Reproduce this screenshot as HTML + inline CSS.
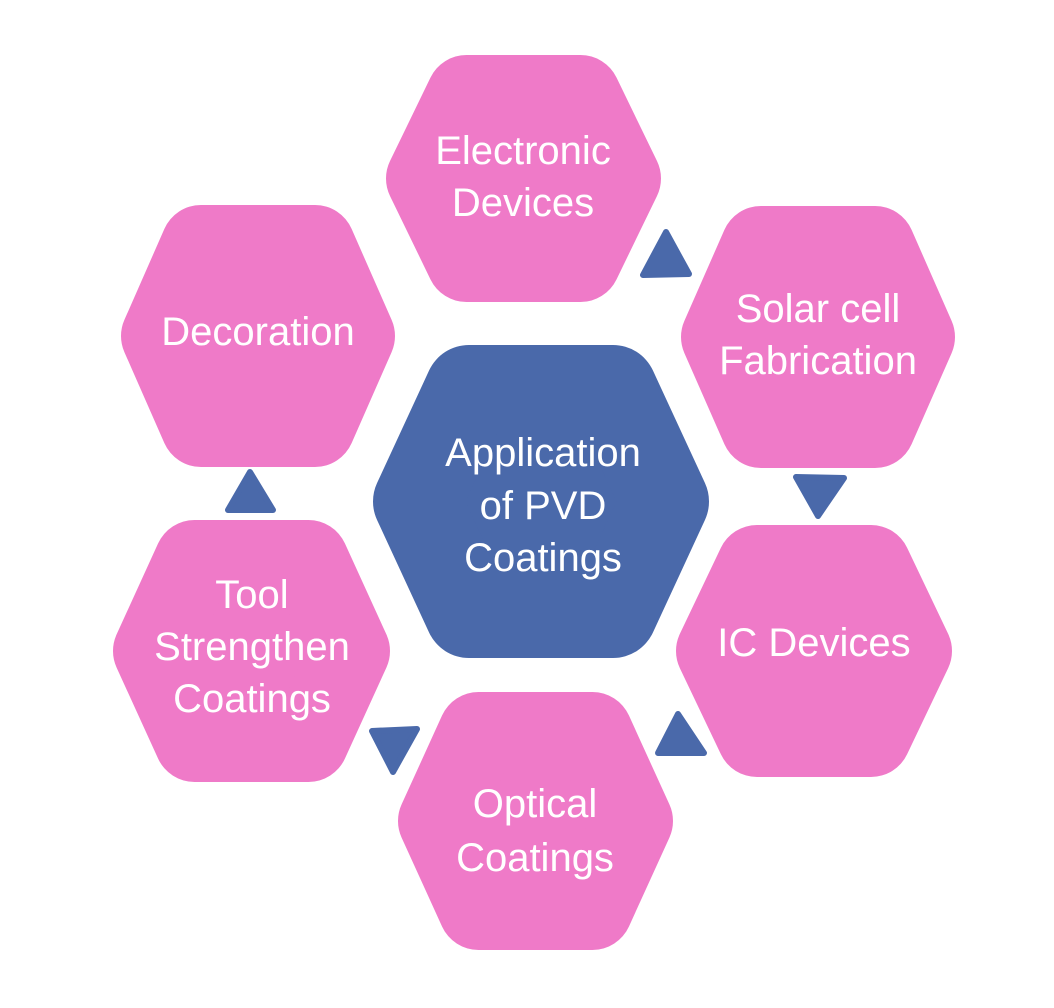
<!DOCTYPE html>
<html><head><meta charset="utf-8"><style>
html,body{margin:0;padding:0;background:#fff;}
svg{display:block}
text{font-family:"Liberation Sans",sans-serif;font-size:40px;fill:#fff;text-anchor:middle}
</style></head><body>
<svg width="1054" height="1008" viewBox="0 0 1054 1008">
<g fill="#ef7ac8" stroke="#ef7ac8" stroke-width="80" stroke-linejoin="round">
<polygon points="426,178.5 466.5,95 580.5,95 621,178.5 580.5,262 466.5,262"/>
<polygon points="721,337 761,246 875,246 915,337 875,428 761,428"/>
<polygon points="716,651 757,565 871,565 912,651 871,737 757,737"/>
<polygon points="438,821 478.5,732 592.5,732 633,821 592.5,910 478.5,910"/>
<polygon points="153,651 194.5,560 308.5,560 350,651 308.5,742 194.5,742"/>
<polygon points="161,336 201,245 315,245 355,336 315,427 201,427"/>
</g>
<polygon points="417,501.5 469,389 613,389 665,501.5 613,614 469,614" fill="#4a69aa" stroke="#4a69aa" stroke-width="88" stroke-linejoin="round"/>
<g fill="#4a69aa" stroke="#4a69aa" stroke-width="6" stroke-linejoin="round">
<polygon points="666,232 643,275 689,274"/>
<polygon points="796,477 844,478 818,516"/>
<polygon points="678,714 658,753 704,753"/>
<polygon points="372,731 417,729 393,772"/>
<polygon points="250,472 228,510 273,510"/>
</g>
<text x="523" y="164">Electronic</text>
<text x="523" y="216">Devices</text>
<text x="818" y="322">Solar cell</text>
<text x="818" y="374">Fabrication</text>
<text x="814" y="656">IC Devices</text>
<text x="535" y="817">Optical</text>
<text x="535" y="871">Coatings</text>
<text x="252" y="608">Tool</text>
<text x="252" y="660">Strengthen</text>
<text x="252" y="712">Coatings</text>
<text x="258" y="345">Decoration</text>
<text x="543" y="466">Application</text>
<text x="543" y="519">of PVD</text>
<text x="543" y="571">Coatings</text>
</svg>
</body></html>
